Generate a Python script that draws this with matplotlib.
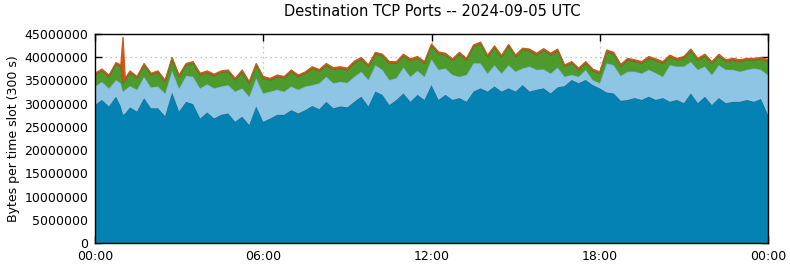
import numpy as np
import matplotlib
matplotlib.use("Agg")
import matplotlib.pyplot as plt

# time of each sample, hours (15-minute readings, plus two readings beside the 01:00 spike)
hours = [i * 0.25 for i in range(97)]
hours = hours[:4] + [0.92] + hours[4:5] + [1.08] + hours[5:]

# cumulative tops (millions of bytes)
dark_top = [29.7, 30.8, 29.4, 31.5, 29.4, 27.6, 27.9, 29.2, 28.3, 31.2, 29.0, 29.0, 27.3, 32.4, 28.3, 30.4, 29.9, 26.8,
            28.1, 26.8, 27.6, 27.9, 26.1, 27.2, 25.4, 29.4, 26.1, 26.8, 27.6, 27.6, 28.6, 27.9, 28.6, 29.5,
            28.8, 30.4, 29.0, 29.4, 29.2, 30.4, 31.5, 29.4, 32.6, 31.9, 29.7, 30.8, 32.2, 30.4, 31.9, 30.8,
            34.0, 30.8, 31.9, 30.8, 31.2, 30.4, 32.6, 33.3, 32.6, 33.7, 32.6, 33.3, 32.6, 34.0, 32.6, 33.0,
            33.3, 32.2, 33.5, 33.8, 35.1, 34.4, 35.1, 34.0, 33.3, 32.4, 32.2, 30.6, 30.8, 31.2, 30.8, 31.5,
            30.8, 31.2, 30.4, 30.8, 30.1, 32.2, 30.1, 31.5, 29.7, 31.2, 30.1, 30.4, 30.4, 30.8, 30.4, 31.0,
            27.6]
light_top = [33.7, 34.7, 33.3, 35.1, 34.4, 32.6, 33.0, 33.8, 33.0, 35.8, 33.5, 33.7, 32.2, 37.1, 33.3, 36.0, 35.8, 33.3,
             34.2, 33.3, 33.7, 34.0, 32.6, 33.3, 31.5, 35.5, 32.2, 32.6, 33.0, 32.6, 33.7, 33.0, 33.7, 34.0,
             34.4, 35.8, 34.4, 34.7, 34.5, 35.8, 36.9, 35.1, 38.3, 37.3, 35.1, 35.5, 37.8, 35.8, 37.1, 35.8,
             39.6, 37.3, 37.6, 36.2, 35.8, 36.2, 38.7, 38.7, 36.5, 38.3, 36.5, 38.3, 36.9, 37.6, 38.0, 37.3,
             37.4, 36.5, 37.8, 35.8, 36.2, 35.8, 37.3, 35.1, 34.4, 38.7, 38.3, 36.0, 36.9, 36.9, 36.5, 37.3,
             36.6, 35.8, 38.3, 38.0, 38.0, 39.0, 37.3, 38.0, 36.2, 38.3, 37.3, 37.3, 36.9, 37.3, 37.6, 37.3,
             36.2]
green_top = [36.2, 37.1, 35.8, 38.5, 38.0, 34.4, 35.1, 36.7, 35.5, 38.3, 36.2, 36.7, 34.7, 39.6, 35.8, 38.3, 38.7, 36.2,
             36.7, 36.0, 36.7, 36.9, 35.1, 36.9, 34.4, 38.3, 35.5, 35.1, 35.8, 35.5, 36.9, 35.8, 36.5, 37.6,
             37.0, 38.3, 37.4, 37.6, 37.3, 38.8, 39.6, 38.0, 40.7, 40.3, 38.7, 38.7, 40.3, 39.3, 39.8, 38.7,
             42.5, 40.8, 40.5, 39.3, 40.7, 39.4, 42.3, 42.9, 40.1, 42.1, 40.0, 42.4, 40.1, 41.6, 41.4, 40.5,
             41.5, 40.5, 41.4, 38.0, 38.7, 37.3, 38.7, 37.1, 36.5, 41.2, 40.7, 38.1, 39.4, 39.1, 38.7, 39.8,
             39.3, 38.7, 40.1, 39.4, 39.8, 41.4, 39.4, 40.3, 38.7, 40.3, 39.1, 39.4, 39.1, 39.4, 39.4, 39.6,
             39.1]
# thin top layer (other ports), millions of bytes
other = [0.35] * 99
other[5] = 9.9

dark = np.array(dark_top) * 1e6
light = (np.array(light_top) - np.array(dark_top)) * 1e6
green = (np.array(green_top) - np.array(light_top)) * 1e6
orange = np.array(other) * 1e6

layers = [dark, light, green, orange]
fills = ['#0482b4', '#8ec4e4', '#4e9a2c', '#e0481a']
edges = ['#236d8c', '#7fb2cf', '#3d7a24', '#c0601e']

W, H = 790, 267
fig = plt.figure(figsize=(W / 100, H / 100), dpi=100)
ax = fig.add_axes([95 / W, 24 / H, (768 - 95) / W, (243 - 34) / H])

x = np.array(hours)
base = np.zeros_like(x)
for i, (vals, fc, ec) in enumerate(zip(layers, fills, edges)):
    top = base + vals
    ax.fill_between(x, base, top, facecolor=fc, edgecolor='none', zorder=2 + i * 0.1)
    ax.plot(x, top, color=ec, lw=0.9, zorder=2.05 + i * 0.1)
    base = top

ax.set_xlim(0, 24)
ax.set_ylim(0, 45e6)
ax.set_xticks([0, 6, 12, 18, 24])
ax.set_xticklabels(['00:00', '06:00', '12:00', '18:00', '00:00'])
yt = list(range(0, 45000001, 5000000))
ax.set_yticks(yt)
ax.set_yticklabels([str(v) for v in yt])
ax.tick_params(direction='in', length=5, width=1, top=True, right=True, labelsize=9, pad=5)
ax.grid(True, color='#b0b0b0', linestyle=(0, (1, 3)), linewidth=0.9)
ax.set_axisbelow(True)
for s in ax.spines.values():
    s.set_linewidth(1.0)
    s.set_zorder(5)

ax.set_ylabel('Bytes per time slot (300 s)', fontsize=9, labelpad=3)
fig.text(432 / W, 1 - 11 / H, 'Destination TCP Ports -- 2024-09-05 UTC', ha='center', va='center', fontsize=10.5)

fig.savefig('out.png', dpi=100)
